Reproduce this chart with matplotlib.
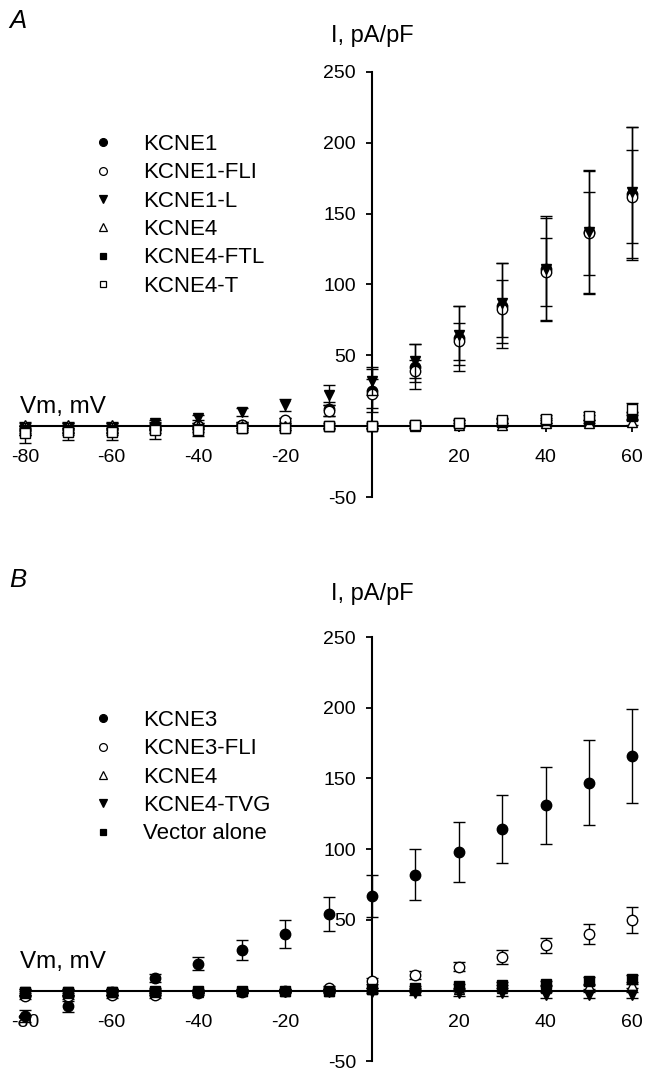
import matplotlib
matplotlib.use("Agg")
import matplotlib.pyplot as plt
from matplotlib.lines import Line2D
from matplotlib.ticker import FixedLocator, FuncFormatter

plt.rcParams['font.family'] = ['Liberation Sans', 'DejaVu Sans']

# membrane potential steps (mV)
vm = [-80, -70, -60, -50, -40, -30, -20, -10, 0, 10, 20, 30, 40, 50, 60]

# panel A, current density (pA/pF) and error bars
kcne1 = [-3, -2, -2, -1, 0, 1, 3, 12, 25, 42, 62, 85, 111, 137, 164]
kcne1_err = [3, 3, 3, 2, 2, 2, 3, 5, 15, 16, 23, 30, 37, 44, 47]
kcne1_fli = [-3, -2, -2, -1, 0, 1, 4, 11, 23, 39, 60, 83, 109, 136, 162]
kcne1_fli_err = [3, 3, 3, 2, 2, 2, 2, 4, 10, 8, 13, 20, 24, 29, 33]
kcne1_l = [-2, -1, -1, 2, 6, 10, 15, 22, 32, 46, 64, 87, 111, 137, 165]
kcne1_l_err = [3, 3, 3, 2, 2, 3, 4, 7, 10, 12, 21, 28, 36, 43, 46]
kcne4_a = [1, 1, 1, 0, 0, 0, 0, 0, 0, 0, 1, 1, 2, 2, 3]
kcne4_a_err = [2, 2, 2, 2, 1, 1, 1, 1, 1, 1, 1, 1, 2, 2, 2]
kcne4_ftl = [-3, -3, -3, -2, -2, -1, -1, 0, 0, 1, 2, 3, 4, 5, 7]
kcne4_ftl_err = [3, 3, 3, 3, 2, 2, 2, 1, 1, 1, 2, 2, 2, 3, 3]
kcne4_t = [-5, -4, -4, -3, -3, -1, -1, 0, 0, 1, 2, 4, 5, 7, 12]
kcne4_t_err = [7, 6, 6, 6, 4, 3, 2, 2, 2, 2, 2, 2, 3, 3, 4]

# panel B
kcne3 = [-18, -11, -1, 9, 19, 29, 40, 54, 67, 82, 98, 114, 131, 147, 166]
kcne3_err = [4, 4, 2, 3, 4.5, 7, 10, 12, 15, 18, 21, 24, 27, 30, 33]
kcne3_fli = [-4, -4, -3, -3, -2, -1, 0, 2, 7, 11, 17, 24, 32, 40, 50]
kcne3_fli_err = [2, 2, 2, 2, 1, 1, 1, 1, 2, 3, 3, 5, 5.5, 7, 9]
kcne4_b = [-2, -2, -1, -1, -1, 0, 0, 0, 1, 1, 1, 2, 2, 3, 4]
kcne4_b_err = [2, 2, 2, 1, 1, 1, 1, 1, 1, 1, 1, 2, 2, 2, 2]
kcne4_tvg = [-1, -1, -1, -1, -1, -1, -1, -1, -1, -2, -2, -2, -3, -3, -3]
kcne4_tvg_err = [2, 2, 2, 2, 1, 1, 1, 1, 1, 1, 2, 2, 2, 2, 2]
vector = [-1, -1, -1, 0, 0, 0, 0, 0, 1, 2, 3, 4, 5, 7, 8]
vector_err = [2, 2, 2, 2, 1, 1, 1, 1, 1, 1, 2, 2, 2, 3, 3]

# (name, values, errors, marker, filled)
seriler_a = [
    ("KCNE1", kcne1, kcne1_err, "o", True),
    ("KCNE1-FLI", kcne1_fli, kcne1_fli_err, "o", False),
    ("KCNE1-L", kcne1_l, kcne1_l_err, "v", True),
    ("KCNE4", kcne4_a, kcne4_a_err, "^", False),
    ("KCNE4-FTL", kcne4_ftl, kcne4_ftl_err, "s", True),
    ("KCNE4-T", kcne4_t, kcne4_t_err, "s", False),
]
seriler_b = [
    ("KCNE3", kcne3, kcne3_err, "o", True),
    ("KCNE3-FLI", kcne3_fli, kcne3_fli_err, "o", False),
    ("KCNE4", kcne4_b, kcne4_b_err, "^", False),
    ("KCNE4-TVG", kcne4_tvg, kcne4_tvg_err, "v", True),
    ("Vector alone", vector, vector_err, "s", True),
]

W, H = 646, 1074
fig = plt.figure(figsize=(W / 100, H / 100), dpi=100)


def panel(rect, seriler, harf, harf_y, ilabel_y, vm_y, leg_top):
    ax = fig.add_axes(rect)
    handles = []
    for i, (ad, y, e, m, dolu) in enumerate(seriler):
        fc = "black" if dolu else "white"
        ms = 6.5 if m == "s" else 7.5
        ax.errorbar(vm, y, yerr=e, fmt=m, color="black", mfc=fc, mec="black",
                    ms=ms, mew=1.0, elinewidth=1.0, capsize=4.5, capthick=1.0,
                    zorder=3 + i, clip_on=False)
        handles.append(Line2D([], [], ls="none", marker=m, color="black",
                              mfc=fc, mec="black", ms=ms * 0.75, mew=0.9, label=ad))

    ax.set_xlim(-81, 61)
    ax.set_ylim(-50, 250)
    for s in ["top", "right"]:
        ax.spines[s].set_visible(False)
    ax.spines["left"].set_position(("data", 0))
    ax.spines["bottom"].set_position(("data", 0))
    ax.spines["left"].set_bounds(-50, 250)
    ax.spines["bottom"].set_bounds(-80.5, 60.5)
    for s in ["left", "bottom"]:
        ax.spines[s].set_linewidth(1.5)
        ax.spines[s].set_zorder(2.5)

    ax.xaxis.set_major_locator(FixedLocator([-80, -60, -40, -20, 0, 20, 40, 60]))
    ax.yaxis.set_major_locator(FixedLocator([-50, 0, 50, 100, 150, 200, 250]))
    gizle0 = FuncFormatter(lambda v, p: "" if v == 0 else f"{v:g}")
    ax.xaxis.set_major_formatter(gizle0)
    ax.yaxis.set_major_formatter(gizle0)
    ax.tick_params(axis="x", direction="out", length=4.5, width=1.3, pad=12, labelsize=14)
    ax.tick_params(axis="y", direction="out", length=4.5, width=1.3, pad=7, labelsize=14)

    fig.text(9 / W, 1 - harf_y / H, harf, fontsize=18.5, style="italic", va="baseline")
    fig.text(372 / W, 1 - ilabel_y / H, "I, pA/pF", fontsize=17, ha="center", va="baseline")
    fig.text(20 / W, 1 - vm_y / H, "Vm, mV", fontsize=17.5, va="baseline")

    fig.legend(handles=handles, loc="upper left", bbox_to_anchor=(92 / W, 1 - leg_top / H),
               frameon=False, fontsize=16, handlelength=1.0, handletextpad=1.3,
               labelspacing=0.33, borderpad=0, borderaxespad=0)
    return ax


panel([20.5 / W, 1 - 497 / H, 616.2 / W, 425 / H], seriler_a, "A", 28, 42, 413, 134)
panel([20.5 / W, 1 - 1061.4 / H, 616.2 / W, 424.4 / H], seriler_b, "B", 587, 600, 968, 710)

fig.savefig("out.png", dpi=100)
